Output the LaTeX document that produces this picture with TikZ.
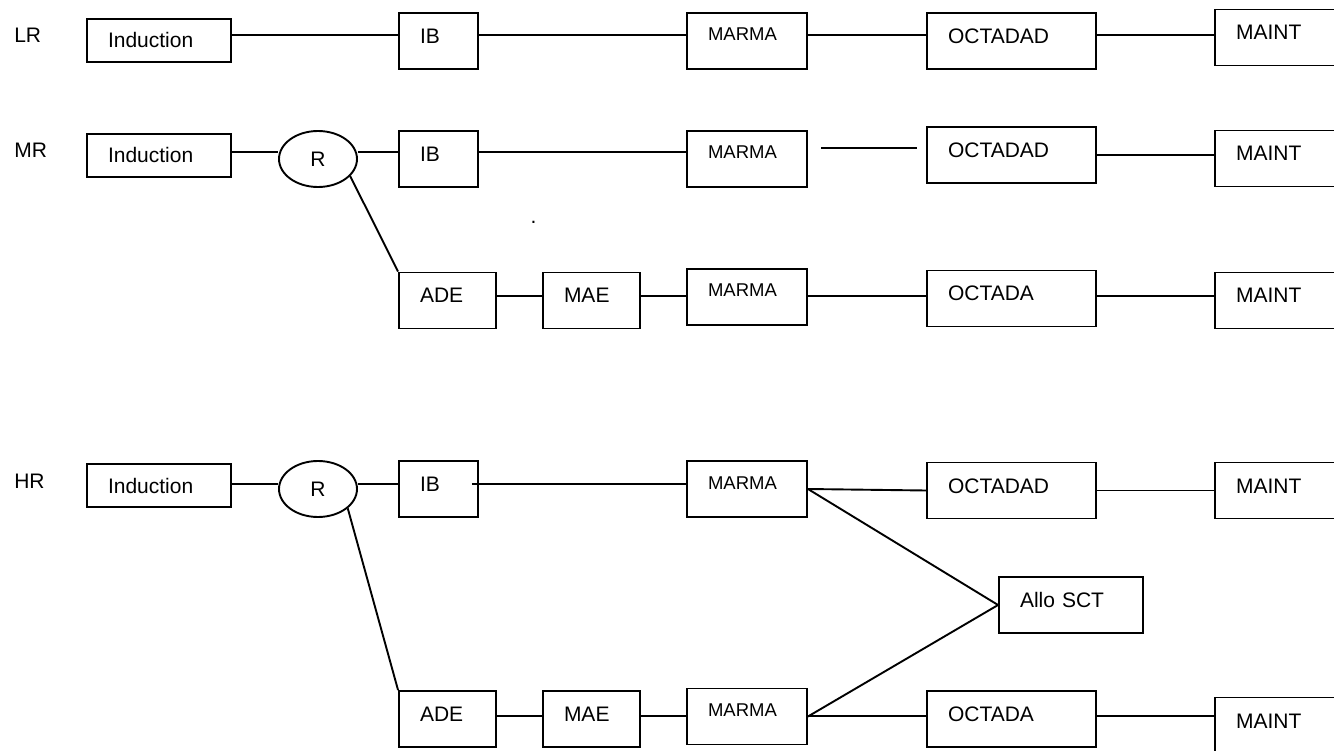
\documentclass[tikz,border=0pt]{standalone}
\usepackage{fontspec}
\setmainfont{Liberation Sans}
\usetikzlibrary{shapes.geometric}

\begin{document}
\begin{tikzpicture}[x=1pt,y=-1pt,line width=1.9pt,
           every node/.style={font=\fontsize{21}{25}\selectfont},
           blk/.style={draw,rectangle,inner xsep=21pt,inner ysep=0pt,align=left,
             minimum height=56pt,text height=15pt,text depth=10pt},
           ind/.style={blk,text width=102pt,minimum height=43pt,text depth=0pt},
           ibx/.style={blk,text width=37pt},
           adx/.style={blk,text width=55pt},
           mar/.style={blk,text width=78pt,font=\fontsize{18.5}{21}\selectfont,
             text height=12pt,text depth=12pt},
           oct/.style={blk,text width=127pt},
           sct/.style={blk,text width=102pt},
           mnt/.style={blk,text width=108pt},
           rnode/.style={draw,ellipse,minimum width=78pt,minimum height=56pt,inner sep=0pt}]
           \path[use as bounding box,clip](0,0)rectangle(1334,751);
           % row labels
           \node[anchor=west](lr)at(10,35){LR};
           \node[anchor=west](mr)at(10,150){MR};
           \node[anchor=west](hr)at(10,481){HR};
           % wire levels
           \coordinate(lrw)at(0,35);
           \coordinate(mrw)at(0,152);
           \coordinate(adw)at(0,296);
           \coordinate(hrw)at(0,484);
           \coordinate(bmw)at(0,716);
           % LR
           \node[ind](ind1)at(159,40.5){Induction};
           \node[ibx](ib1)at(438.5,41){IB};
           \node[mar](mar1)at(747,41){MARMA};
           \node[oct](oct1)at(1011.5,41){OCTADAD};
           \node[mnt](mnt1)at(1290,37.5){MAINT};
           \draw(ind1.east|-lrw)--(ib1.west|-lrw);
           \draw(ib1.east|-lrw)--(mar1.west|-lrw);
           \draw(mar1.east|-lrw)--(oct1.west|-lrw);
           \draw(oct1.east|-lrw)--(mnt1.west|-lrw);
           % MR
           \node[ind](ind2)at(159,155.5){Induction};
           \node[rnode](r2)at(318,159){R};
           \node[ibx](ib2)at(438.5,159){IB};
           \node[mar](mar2)at(747,159){MARMA};
           \node[oct](oct2)at(1011.5,155){OCTADAD};
           \node[mnt](mnt2)at(1290,158.5){MAINT};
           \node[anchor=base](dot)at(533.5,224){.};
           \coordinate(gapa)at(821,148);
           \coordinate(gapb)at(917,148);
           \draw(ind2.east|-mrw)--(r2.west|-mrw);
           \draw(r2.east|-mrw)--(ib2.west|-mrw);
           \draw(ib2.east|-mrw)--(mar2.west|-mrw);
           \draw(gapa)--(gapb);
           \draw(oct2.east)--(mnt2.west|-oct2.east);
           \node[adx](ade2)at(447.5,300.5){ADE};
           \node[adx](mae2)at(591.5,300.5){MAE};
           \node[mar](mar3)at(747,297){MARMA};
           \node[oct](oct3)at(1011.5,298.5){OCTADA};
           \node[mnt](mnt3)at(1290,300.5){MAINT};
           \draw(r2.-28)--(ade2.north west);
           \draw(ade2.east|-adw)--(mae2.west|-adw);
           \draw(mae2.east|-adw)--(mar3.west|-adw);
           \draw(mar3.east|-adw)--(oct3.west|-adw);
           \draw(oct3.east|-adw)--(mnt3.west|-adw);
           % HR
           \node[ind](ind4)at(159,485.5){Induction};
           \node[rnode](r4)at(318,489){R};
           \node[ibx](ib4)at(438.5,489){IB};
           \node[mar](mar4)at(747,489){MARMA};
           \node[oct](oct4)at(1011.5,490.5){OCTADAD};
           \node[mnt](mnt4)at(1290,490.5){MAINT};
           \node[sct](sct)at(1071,605){Allo SCT};
           \draw(ind4.east|-hrw)--(r4.west|-hrw);
           \draw(r4.east|-hrw)--(ib4.west|-hrw);
           \draw([xshift=-7pt]ib4.east|-hrw)--(mar4.west|-hrw);
           \draw(mar4.east)--(oct4.west);
           \draw(oct4.east)--(mnt4.west);
           \draw(mar4.east)--(sct.west);
           \node[adx](ade5)at(447.5,719){ADE};
           \node[adx](mae5)at(591.5,719){MAE};
           \node[mar](mar5)at(747,716.5){MARMA};
           \node[oct](oct5)at(1011.5,719){OCTADA};
           \node[mnt](mnt5)at(1290,725.5){MAINT};
           \draw(r4.-33)--(ade5.north west);
           \draw(ade5.east|-bmw)--(mae5.west|-bmw);
           \draw(mae5.east|-bmw)--(mar5.west|-bmw);
           \draw(mar5.east|-bmw)--(oct5.west|-bmw);
           \draw(oct5.east|-bmw)--(mnt5.west|-bmw);
           \draw(mar5.east)--(sct.west);
         \end{tikzpicture}
\end{document}
